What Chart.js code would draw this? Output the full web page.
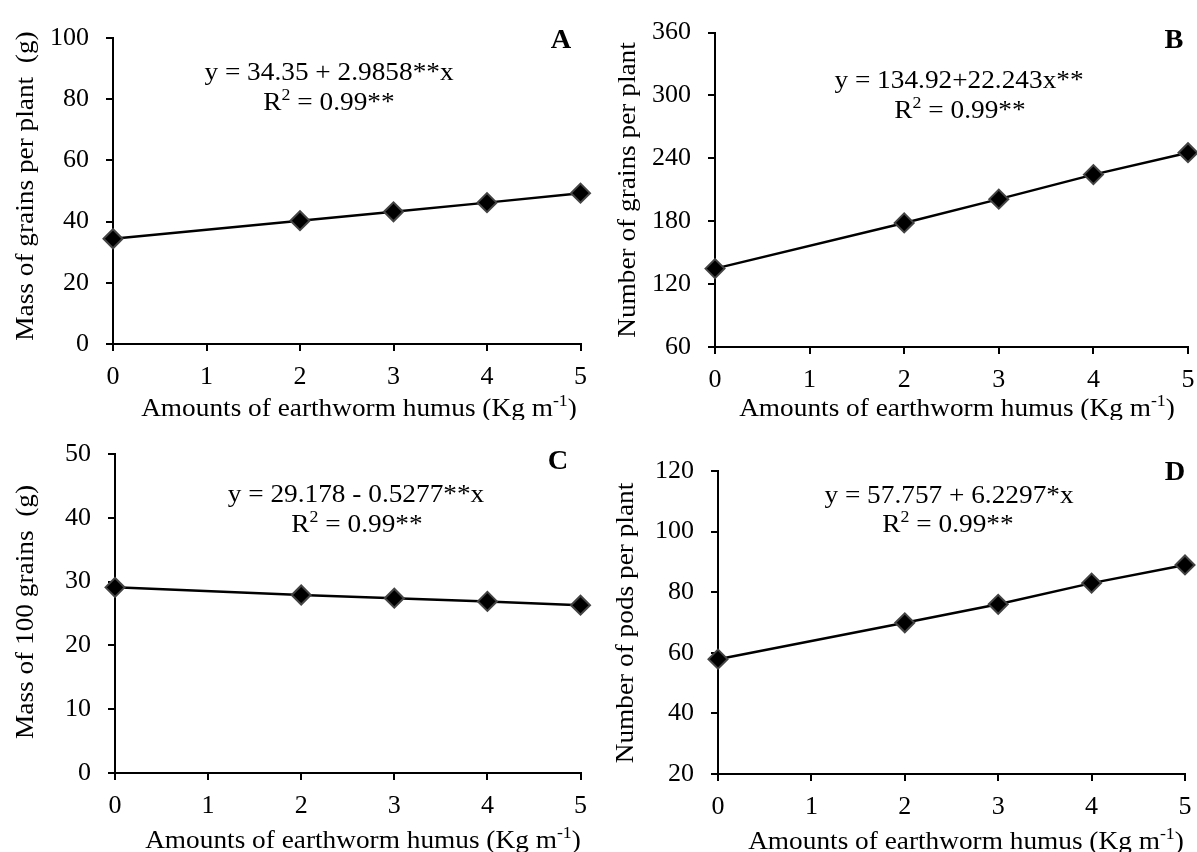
<!DOCTYPE html>
<html>
<head>
<meta charset="utf-8">
<style>
  html, body { margin: 0; padding: 0; background: #fff; overflow: hidden; }
  #page { position: relative; width: 1197px; height: 852px; overflow: hidden; background: #fff; }
  #page canvas { position: absolute; }
</style>
<script src="https://cdn.jsdelivr.net/npm/chart.js"></script>
</head>
<body>
<div id="page">
  <canvas id="chartA" width="598" height="420" style="left:0;top:0"></canvas>
  <canvas id="chartB" width="620" height="420" style="left:598px;top:0"></canvas>
  <canvas id="chartC" width="598" height="432" style="left:0;top:420px"></canvas>
  <canvas id="chartD" width="620" height="432" style="left:598px;top:420px"></canvas>
</div>

<script>
  // earthworm humus doses (Kg m-1)
  const humus = [0, 2, 3, 4, 5];

  // values
  const massGrainsPlant = [34.4, 40.3, 43.2, 46.2, 49.3];
  const grainsPerPlant = [134.8, 178.4, 201.1, 224.5, 245.4];
  const mass100Grains = [29.1, 27.9, 27.4, 26.9, 26.3];
  const podsPerPlant = [57.9, 69.9, 76.0, 83.0, 89.0];

  // y axis ranges [min, max, step]
  const yRangeA = [0, 100, 20];
  const yRangeB = [60, 360, 60];
  const yRangeC = [0, 50, 10];
  const yRangeD = [20, 120, 20];

  const panelLetters = ['A', 'B', 'C', 'D'];
  const equations = [
    'y = 34.35 + 2.9858**x',
    'y = 134.92+22.243x**',
    'y = 29.178 - 0.5277**x',
    'y = 57.757 + 6.2297*x'
  ];
  const r2Values = ['0.99**', '0.99**', '0.99**', '0.99**'];
  const yTitles = [
    'Mass of grains per plant  (g)',
    'Number of grains per plant',
    'Mass of 100 grains  (g)',
    'Number of pods per plant'
  ];
  const xTitle = 'Amounts of earthworm humus (Kg m';

  const FONT = '"Liberation Serif", "Times New Roman", serif';
  const SX = 1.05; // text in the figure is a little wide

  function drawRich(ctx, parts, cx, cy, size, rotate, weight) {
    weight = weight || 'normal';
    ctx.save();
    ctx.translate(cx, cy);
    if (rotate) ctx.rotate(-Math.PI / 2);
    ctx.scale(SX, 1);
    ctx.fillStyle = '#000';
    ctx.textAlign = 'left';
    ctx.textBaseline = 'alphabetic';
    const fontFor = p => `${weight} ${p.sup ? Math.round(size * 0.65) : size}px ${FONT}`;
    let total = 0;
    parts.forEach(p => { ctx.font = fontFor(p); total += ctx.measureText(p.t).width; });
    let x = -total / 2;
    parts.forEach(p => {
      ctx.font = fontFor(p);
      ctx.fillText(p.t, x, p.sup ? -size * 0.38 : 0);
      x += ctx.measureText(p.t).width;
    });
    ctx.restore();
  }

  const panelText = {
    id: 'panelText',
    afterDraw(chart, args, o) {
      const ctx = chart.ctx;
      drawRich(ctx, [{ t: o.letter }], o.letterX, o.letterY, 27, false, 'bold');
      drawRich(ctx, [{ t: o.eq }], o.eqX, o.eqY, 26);
      drawRich(ctx, [{ t: 'R' }, { t: '2', sup: true }, { t: ' = ' + o.r2 }], o.r2X, o.r2Y, 26);
      drawRich(ctx, [{ t: xTitle }, { t: '-1', sup: true }, { t: ')' }], o.xTitleX, o.xTitleY, 26);
      drawRich(ctx, [{ t: o.yTitle }], o.yTitleX, o.yTitleY, 26, true);
    }
  };

  // placement of each panel (canvas-local pixels)
  const panels = [
    { id: 'chartA', values: massGrainsPlant, range: yRangeA, axisW: 113, axisH: 76, padTop: 38, padRight: 17,
      letterX: 561, letterY: 48, eqX: 329, eqY: 80, r2X: 329, r2Y: 110, xTitleX: 359, xTitleY: 416, yTitleX: 33, yTitleY: 186 },
    { id: 'chartB', values: grainsPerPlant, range: yRangeB, axisW: 117, axisH: 73, padTop: 26, padRight: 30,
      letterX: 576, letterY: 48, eqX: 361, eqY: 88, r2X: 362, r2Y: 118, xTitleX: 359, xTitleY: 416, yTitleX: 37, yTitleY: 190 },
    { id: 'chartC', values: mass100Grains, range: yRangeC, axisW: 115, axisH: 79, padTop: 34, padRight: 17,
      letterX: 558, letterY: 49, eqX: 356, eqY: 82, r2X: 357, r2Y: 112, xTitleX: 363, xTitleY: 428, yTitleX: 33, yTitleY: 192 },
    { id: 'chartD', values: podsPerPlant, range: yRangeD, axisW: 120, axisH: 78, padTop: 51, padRight: 33,
      letterX: 577, letterY: 60, eqX: 351, eqY: 83, r2X: 350, r2Y: 112, xTitleX: 368, xTitleY: 429, yTitleX: 35, yTitleY: 203 }
  ];

  const axisStyle = {
    grid: { display: true, drawOnChartArea: false, drawTicks: true, tickLength: 7, color: '#000', lineWidth: 2 },
    border: { display: true, color: '#000', width: 2 }
  };

  panels.forEach((p, i) => {
    new Chart(document.getElementById(p.id), {
      type: 'line',
      data: {
        datasets: [{
          data: humus.map((x, k) => ({ x: x, y: p.values[k] })),
          borderColor: '#000',
          borderWidth: 2.5,
          pointStyle: 'rectRot',
          pointRadius: 9.5,
          pointBackgroundColor: '#000',
          pointBorderColor: '#444',
          pointBorderWidth: 2,
          tension: 0,
          clip: false
        }]
      },
      options: {
        responsive: false,
        animation: false,
        events: [],
        layout: { padding: { top: p.padTop, right: p.padRight, left: 0, bottom: 0 } },
        plugins: {
          legend: { display: false },
          tooltip: { enabled: false },
          panelText: {
            letter: panelLetters[i], eq: equations[i], r2: r2Values[i], yTitle: yTitles[i],
            letterX: p.letterX, letterY: p.letterY, eqX: p.eqX, eqY: p.eqY, r2X: p.r2X, r2Y: p.r2Y,
            xTitleX: p.xTitleX, xTitleY: p.xTitleY, yTitleX: p.yTitleX, yTitleY: p.yTitleY
          }
        },
        scales: {
          x: {
            type: 'linear', min: 0, max: 5,
            ticks: { stepSize: 1, color: '#000', padding: 11, font: { family: FONT, size: 26 } },
            grid: axisStyle.grid, border: axisStyle.border,
            afterFit: s => { s.height = p.axisH; }
          },
          y: {
            min: p.range[0], max: p.range[1],
            ticks: { stepSize: p.range[2], color: '#000', padding: 17, font: { family: FONT, size: 26 } },
            grid: axisStyle.grid, border: axisStyle.border,
            afterFit: s => { s.width = p.axisW; }
          }
        }
      },
      plugins: [panelText]
    });
  });
</script>
</body>
</html>
